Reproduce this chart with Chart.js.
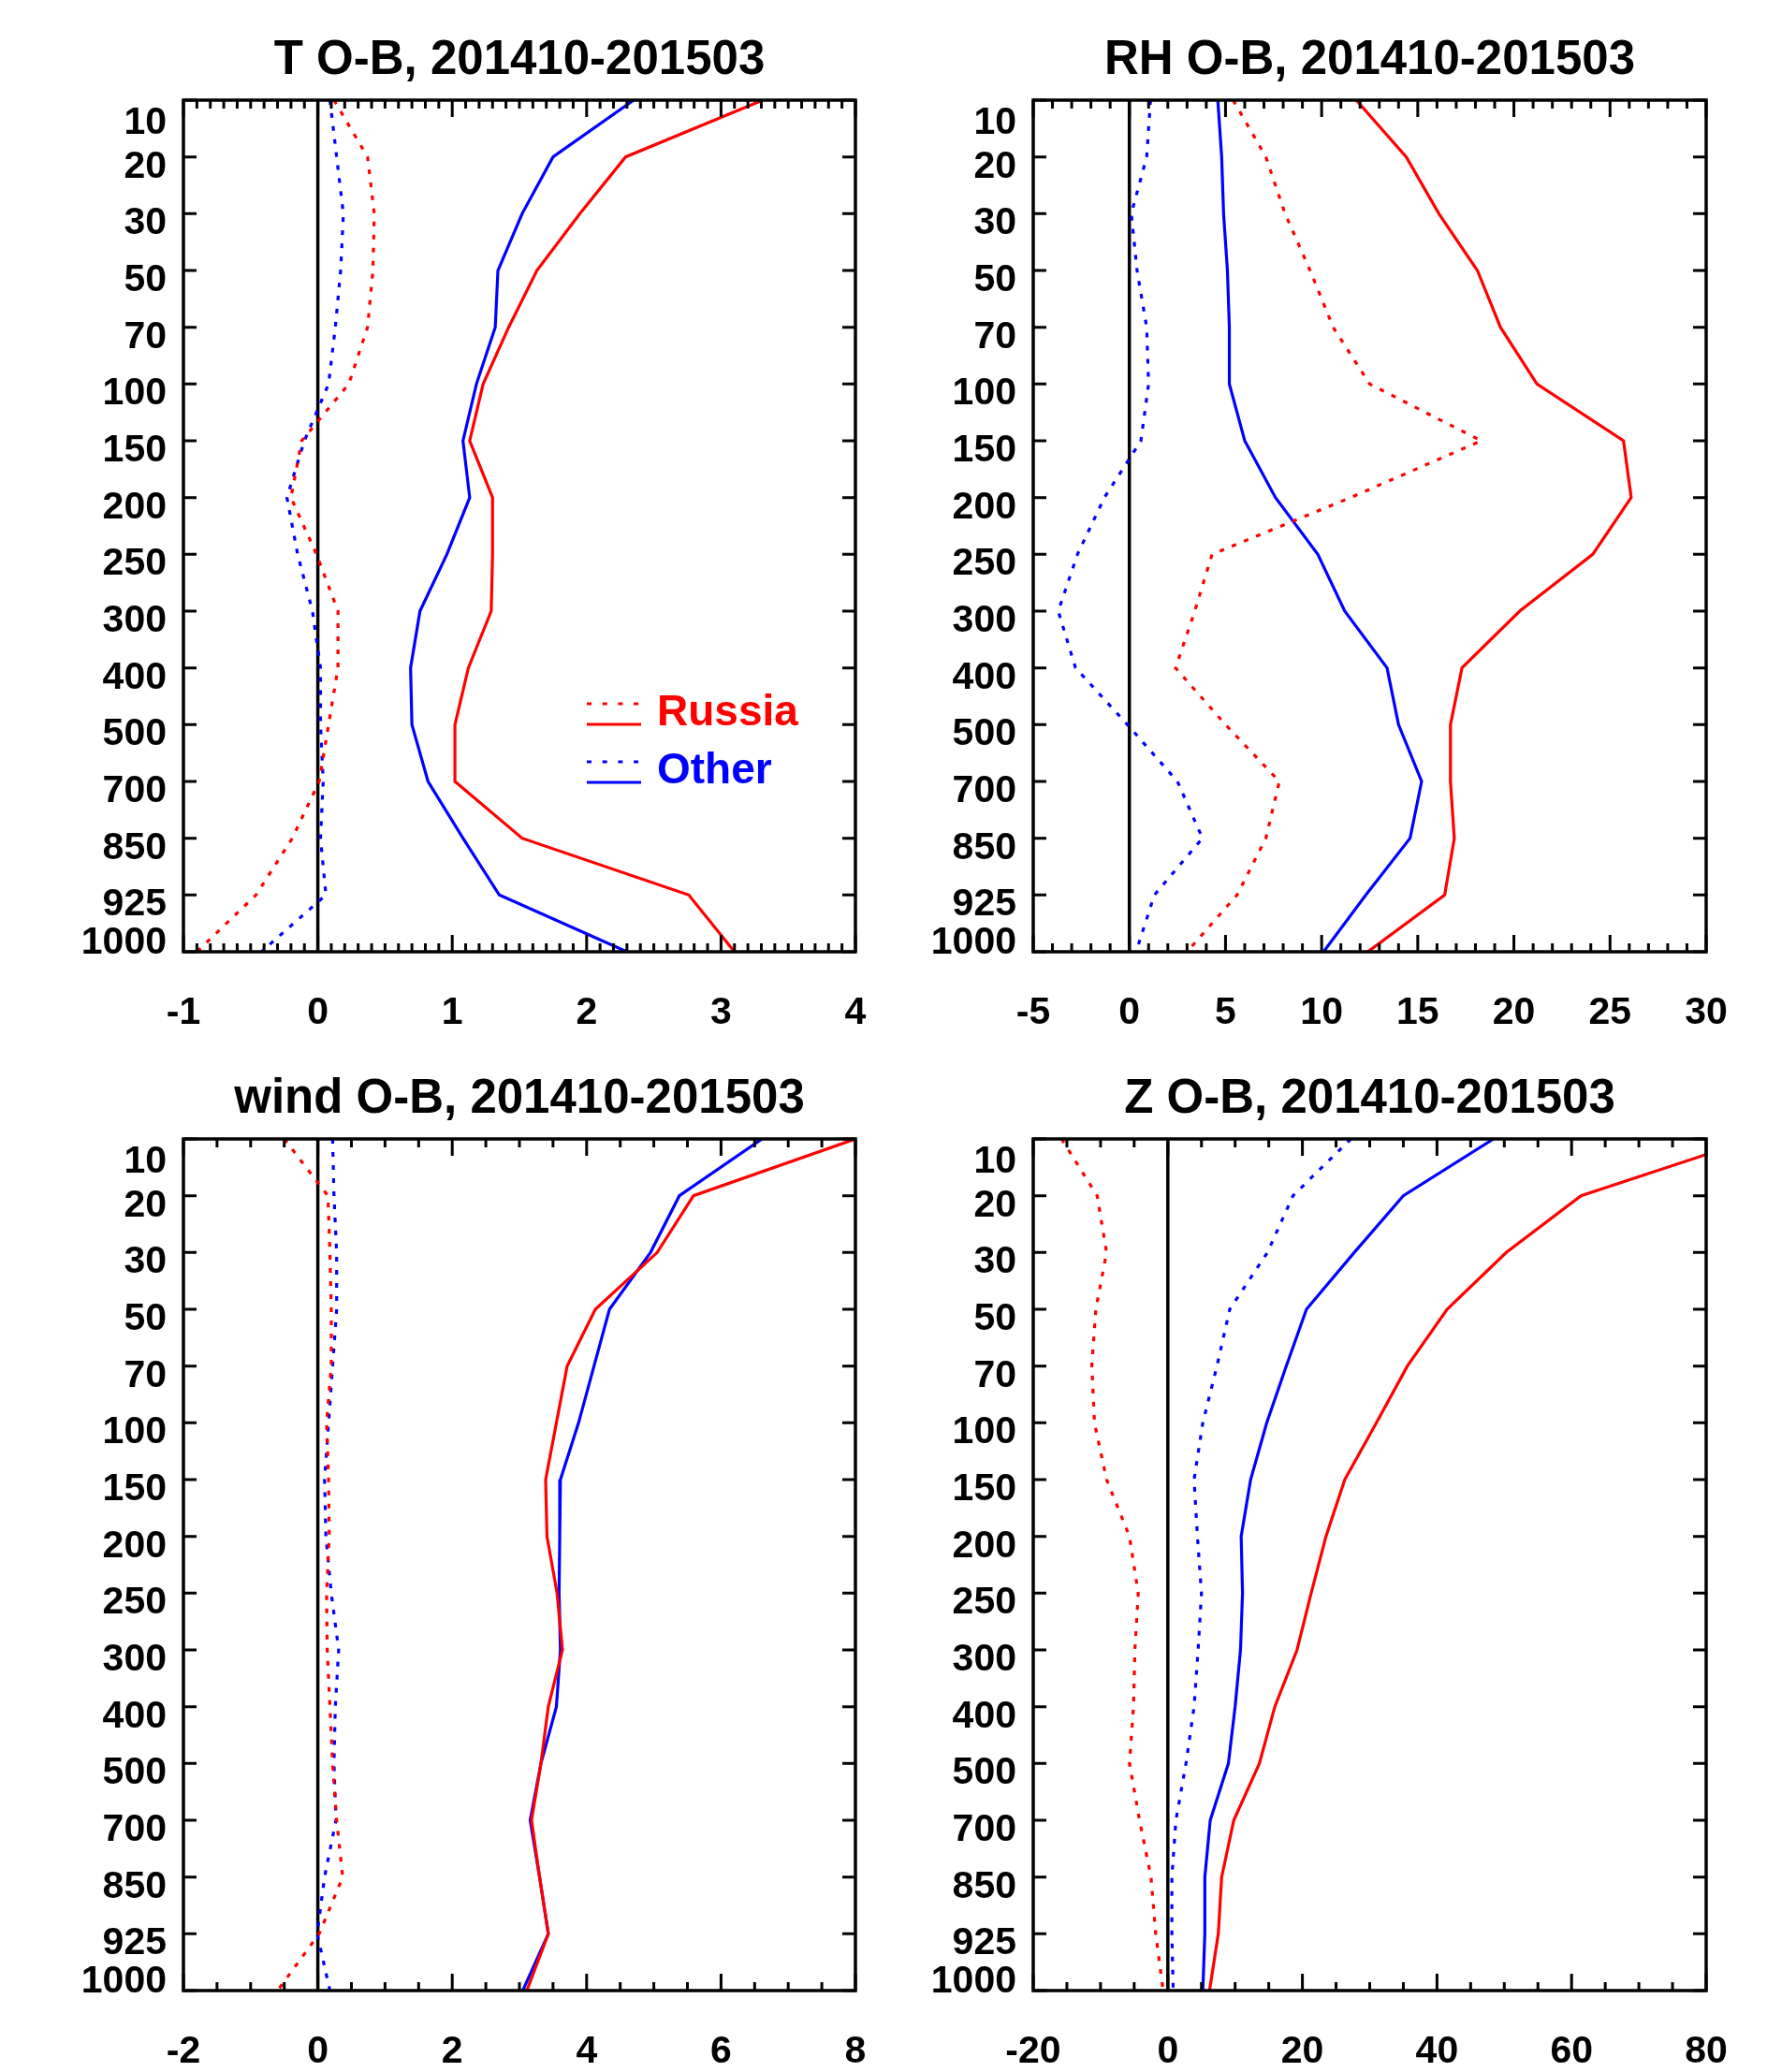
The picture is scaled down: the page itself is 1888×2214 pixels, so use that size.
<!DOCTYPE html>
<html>
<head>
<meta charset="utf-8">
<title>O-B profiles, 201410-201503</title>
<script src="https://cdn.jsdelivr.net/npm/chart.js"></script>
<style>
    body { margin: 0; background: #fff; }
    #wrap { position: relative; width: 1888px; height: 2214px; }
    canvas { position: absolute; }
</style>
</head>
<body>
<div id="wrap">
    <canvas id="tChart" width="944" height="1110" style="left:0;top:0"></canvas>
    <canvas id="rhChart" width="944" height="1110" style="left:944px;top:0"></canvas>
    <canvas id="windChart" width="944" height="1104" style="left:0;top:1110px"></canvas>
    <canvas id="zChart" width="944" height="1104" style="left:944px;top:1110px"></canvas>
</div>
<script>
// ===== DATA =====
// pressure levels (hPa), top to bottom
const levels = ["10", "20", "30", "50", "70", "100", "150", "200", "250", "300", "400", "500", "700", "850", "925", "1000"];
const sources = ["Russia", "Other"];

// T
const tTicks = [-1, 0, 1, 2, 3, 4];
const tRussiaMean = [0.12, 0.37, 0.42, 0.41, 0.37, 0.23, -0.12, -0.20, -0.01, 0.15, 0.15, 0.08, 0.01, -0.19, -0.46, -0.90];
const tRussiaStd = [3.31, 2.29, 1.95, 1.63, 1.42, 1.23, 1.13, 1.30, 1.30, 1.29, 1.12, 1.02, 1.02, 1.52, 2.76, 3.10];
const tOtherMean = [0.09, 0.14, 0.19, 0.17, 0.13, 0.08, -0.10, -0.23, -0.15, -0.04, 0.02, 0.02, 0.04, 0.02, 0.06, -0.42];
const tOtherStd = [2.35, 1.75, 1.52, 1.34, 1.32, 1.18, 1.08, 1.13, 0.96, 0.76, 0.69, 0.70, 0.82, 1.08, 1.35, 2.30];

// RH
const rhTicks = [-5, 0, 5, 10, 15, 20, 25, 30];
const rhRussiaMean = [5.4, 7.1, 8.1, 9.4, 10.6, 12.5, 18.3, 11.5, 4.3, 3.4, 2.4, 5.0, 7.8, 7.1, 5.6, 3.0];
const rhRussiaStd = [11.8, 14.4, 16.1, 18.1, 19.3, 21.2, 25.7, 26.1, 24.1, 20.3, 17.3, 16.7, 16.7, 16.9, 16.4, 12.4];
const rhOtherMean = [1.1, 0.9, 0.1, 0.4, 0.9, 1.0, 0.6, -1.3, -2.7, -3.7, -2.8, -0.1, 2.5, 3.8, 1.3, 0.35];
const rhOtherStd = [4.6, 4.8, 4.9, 5.1, 5.2, 5.2, 6.0, 7.6, 9.8, 11.2, 13.4, 14.0, 15.2, 14.6, 12.3, 10.1];

// wind
const windTicks = [-2, 0, 2, 4, 6, 8];
const windRussiaMean = [-0.50, 0.15, 0.18, 0.20, 0.20, 0.13, 0.16, 0.17, 0.13, 0.14, 0.18, 0.22, 0.28, 0.37, 0.02, -0.60];
const windRussiaStd = [8.0, 5.59, 5.05, 4.13, 3.71, 3.55, 3.39, 3.41, 3.56, 3.64, 3.43, 3.32, 3.18, 3.30, 3.43, 3.11];
const windOtherMean = [0.22, 0.24, 0.28, 0.28, 0.22, 0.16, 0.10, 0.12, 0.20, 0.31, 0.26, 0.24, 0.27, 0.10, -0.01, 0.18];
const windOtherStd = [6.61, 5.38, 4.95, 4.34, 4.11, 3.88, 3.61, 3.60, 3.59, 3.61, 3.55, 3.32, 3.16, 3.30, 3.43, 3.05];

// Z
const zTicks = [-20, 0, 20, 40, 60, 80];
const zRussiaMean = [-15.8, -10.5, -9.1, -10.7, -11.3, -10.9, -9.1, -5.7, -4.4, -4.9, -5.1, -5.7, -4.2, -2.5, -1.8, -0.7];
const zRussiaStd = [87, 61.4, 50.3, 41.5, 35.6, 31.0, 26.3, 23.5, 21.3, 19.2, 15.9, 13.6, 9.8, 8.0, 7.5, 6.2];
const zOtherMean = [27.2, 18.6, 14.8, 9.2, 7.3, 5.2, 3.9, 4.4, 5.0, 4.5, 3.9, 2.7, 1.2, 0.6, 0.6, 0.8];
const zOtherStd = [48.4, 35.0, 27.7, 20.6, 17.6, 14.7, 12.3, 10.9, 11.1, 10.8, 10.0, 9.0, 6.3, 5.5, 5.5, 5.2];

const RED = "#ff0000";
const BLUE = "#0000ff";
const FONT = '"Liberation Sans", Arial, Helvetica, sans-serif';
const DOTS = [5, 9];

// ===== IDL STYLE FRAME (inward ticks, labels, title, legend) =====
const idlAxes = {
    id: "idlAxes",
    beforeDatasetsDraw(chart) {
        const { ctx, chartArea: a, scales: { x } } = chart;
        const x0 = x.getPixelForValue(0);
        ctx.save();
        ctx.strokeStyle = "#000";
        ctx.lineWidth = 3.5;
        ctx.beginPath();
        ctx.moveTo(x0, a.top);
        ctx.lineTo(x0, a.bottom);
        ctx.stroke();
        ctx.restore();
    },
    afterDatasetsDraw(chart, args, opts) {
        const { ctx, chartArea: a, scales: { x, y } } = chart;
        const ticks = opts.ticks;
        ctx.save();
        ctx.strokeStyle = "#000";
        ctx.lineWidth = 3.5;
        ctx.strokeRect(a.left, a.top, a.right - a.left, a.bottom - a.top);

        // x ticks, top and bottom, pointing in
        ctx.lineWidth = 3;
        const step = (ticks[1] - ticks[0]) / opts.minor;
        const n = Math.round((ticks[ticks.length - 1] - ticks[0]) / step);
        ctx.beginPath();
        for (let k = 0; k <= n; k++) {
            const px = x.getPixelForValue(ticks[0] + k * step);
            const len = k % opts.minor === 0 ? 18 : 9;
            ctx.moveTo(px, a.top);
            ctx.lineTo(px, a.top + len);
            ctx.moveTo(px, a.bottom);
            ctx.lineTo(px, a.bottom - len);
        }
        // y ticks, left and right
        levels.forEach((l, i) => {
            const py = y.getPixelForValue(i);
            ctx.moveTo(a.left, py);
            ctx.lineTo(a.left + 14, py);
            ctx.moveTo(a.right, py);
            ctx.lineTo(a.right - 14, py);
        });
        ctx.stroke();

        // tick labels
        ctx.fillStyle = "#000";
        ctx.font = "bold 41px " + FONT;
        ctx.textBaseline = "alphabetic";
        ctx.textAlign = "center";
        ticks.forEach(v => ctx.fillText(String(v), x.getPixelForValue(v), a.bottom + 77));
        ctx.textAlign = "right";
        levels.forEach((l, i) => {
            let dy = 22;
            if (i === 0) dy = 36;
            if (i === levels.length - 1) dy = 2;
            ctx.fillText(l, a.left - 18, y.getPixelForValue(i) + dy);
        });

        // title
        ctx.font = "bold 51px " + FONT;
        ctx.textAlign = "center";
        ctx.fillText(opts.title, (a.left + a.right) / 2, a.top - 28);

        // legend
        if (opts.legend) {
            const colors = [RED, BLUE];
            ctx.font = "bold 46px " + FONT;
            ctx.textAlign = "left";
            ctx.lineWidth = 3;
            sources.forEach((s, i) => {
                const y0 = a.top + 645 + i * 62;
                ctx.strokeStyle = colors[i];
                ctx.fillStyle = colors[i];
                ctx.setLineDash([5, 11.7]);
                ctx.beginPath();
                ctx.moveTo(a.left + 431, y0);
                ctx.lineTo(a.left + 489, y0);
                ctx.stroke();
                ctx.setLineDash([]);
                ctx.beginPath();
                ctx.moveTo(a.left + 431, y0 + 22);
                ctx.lineTo(a.left + 489, y0 + 22);
                ctx.stroke();
                ctx.fillText(s, a.left + 506, y0 + 23);
            });
        }
        ctx.restore();
    }
};

function toPoints(vals) {
    return vals.map((v, i) => ({ x: v, y: i }));
}

function profileChart(id, title, ticks, minor, russiaMean, russiaStd, otherMean, otherStd, pad, legend) {
    const line = (label, vals, color, dotted) => ({
        label: label,
        data: toPoints(vals),
        borderColor: color,
        borderWidth: 3.2,
        borderDash: dotted ? DOTS : [],
        pointRadius: 0,
        tension: 0,
        fill: false
    });
    return new Chart(document.getElementById(id), {
        type: "line",
        data: {
            datasets: [
                line("Russia mean", russiaMean, RED, true),
                line("Russia std", russiaStd, RED, false),
                line("Other mean", otherMean, BLUE, true),
                line("Other std", otherStd, BLUE, false)
            ]
        },
        options: {
            responsive: false,
            animation: false,
            events: [],
            layout: { padding: pad },
            scales: {
                x: { type: "linear", display: false, min: ticks[0], max: ticks[ticks.length - 1] },
                y: { type: "linear", display: false, min: 0, max: levels.length - 1, reverse: true }
            },
            plugins: {
                legend: { display: false },
                tooltip: { enabled: false },
                idlAxes: { title: title, ticks: ticks, minor: minor, legend: legend }
            }
        },
        plugins: [idlAxes]
    });
}

// ===== GRAFIK =====
profileChart("tChart", "T O-B, 201410-201503", tTicks, 10,
    tRussiaMean, tRussiaStd, tOtherMean, tOtherStd,
    { left: 196, right: 30, top: 107, bottom: 93 }, true);

profileChart("rhChart", "RH O-B, 201410-201503", rhTicks, 5,
    rhRussiaMean, rhRussiaStd, rhOtherMean, rhOtherStd,
    { left: 160, right: 65, top: 107, bottom: 93 }, false);

profileChart("windChart", "wind O-B, 201410-201503", windTicks, 4,
    windRussiaMean, windRussiaStd, windOtherMean, windOtherStd,
    { left: 196, right: 30, top: 107, bottom: 87 }, false);

profileChart("zChart", "Z O-B, 201410-201503", zTicks, 4,
    zRussiaMean, zRussiaStd, zOtherMean, zOtherStd,
    { left: 160, right: 65, top: 107, bottom: 87 }, false);
</script>
</body>
</html>
